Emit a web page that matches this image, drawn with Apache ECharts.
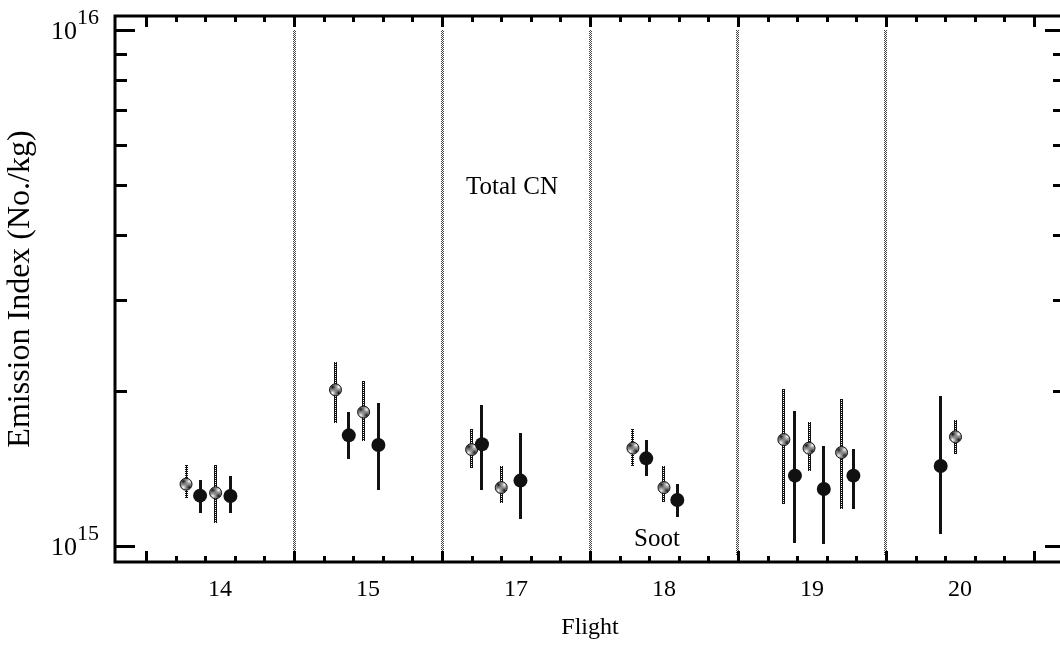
<!DOCTYPE html>
<html>
<head>
<meta charset="utf-8">
<title>Emission Index</title>
<script src="https://cdn.jsdelivr.net/npm/echarts@6/dist/echarts.min.js"></script>
<style>
  html, body { margin: 0; padding: 0; background: #fff; }
  #main { width: 1060px; height: 647px; }
</style>
</head>
<body>
<div id="main"></div>
<script>
// flights on the x axis (index 0..5)
const flights = ['14', '15', '17', '18', '19', '20'];
const flightPos = [0, 1, 2, 3, 4, 5];

// Total CN: x position (flight index + offset), value, low, high  (x 1e15 No./kg)
const cnX    = [-0.23, -0.03, 0.78, 0.97, 1.70, 1.90, 2.79, 3.00, 3.81, 3.98, 4.20, 4.97];
const cnVal  = [1.32, 1.27, 2.01, 1.82, 1.54, 1.30, 1.55, 1.30, 1.61, 1.55, 1.52, 1.63];
const cnLow  = [1.245, 1.11, 1.74, 1.60, 1.42, 1.21, 1.43, 1.22, 1.21, 1.40, 1.18, 1.515];
const cnHigh = [1.44, 1.44, 2.28, 2.09, 1.69, 1.43, 1.69, 1.43, 2.02, 1.74, 1.93, 1.76];

// Soot
const sootX    = [-0.135, 0.07, 0.87, 1.07, 1.77, 2.03, 2.88, 3.09, 3.885, 4.08, 4.28, 4.87];
const sootVal  = [1.254, 1.252, 1.641, 1.572, 1.577, 1.341, 1.481, 1.230, 1.371, 1.292, 1.371, 1.431];
const sootLow  = [1.162, 1.162, 1.476, 1.286, 1.286, 1.130, 1.371, 1.142, 1.014, 1.014, 1.180, 1.057];
const sootHigh = [1.345, 1.369, 1.823, 1.892, 1.878, 1.656, 1.607, 1.321, 1.829, 1.567, 1.544, 1.957];

// flight separators
const sepX = [0.5, 1.5, 2.5, 3.5, 4.5];

// tick positions
const yMajor = [1e15, 1e16];
const yMinor = [2e15, 3e15, 4e15, 5e15, 6e15, 7e15, 8e15, 9e15];
const xMajor = [-0.5, 0.5, 1.5, 2.5, 3.5, 4.5, 5.5];
const xMinor = [];
flightPos.forEach(function (i) {
  xMinor.push(i - 0.3, i - 0.1, i + 0.1, i + 0.3);
});

const E15 = 1e15;
const Y_MIN = 0.933e15, Y_MAX = 1.064e16;
const X_MIN = -0.71, X_MAX = 5.71;
const FONT = '"Liberation Serif", "DejaVu Serif", serif';

// small repeating pixel patterns, like the hatched marks of the original plot
function pattern(rows) {
  const cv = document.createElement('canvas');
  cv.width = rows[0].length; cv.height = rows.length;
  const ctx = cv.getContext('2d');
  rows.forEach(function (row, y) {
    row.forEach(function (c, x) { ctx.fillStyle = c; ctx.fillRect(x, y, 1, 1); });
  });
  return { image: cv, repeat: 'repeat' };
}
const K = '#111', W = '#fff', G = '#444';
const cnFill = pattern([[K, W], [W, K]]);
const cnBarFill = pattern([[K, W], [K, K]]);
const sepFill = pattern([[G, W], [W, G]]);

function barData(xs, lows, highs) {
  return xs.map(function (x, i) { return [x, lows[i] * E15, highs[i] * E15]; });
}
function ptData(xs, vals) {
  return xs.map(function (x, i) { return [x, vals[i] * E15]; });
}

function barRender(fill) {
  return function (params, api) {
    const top = api.coord([api.value(0), api.value(2)]);
    const bot = api.coord([api.value(0), api.value(1)]);
    return {
      type: 'rect',
      shape: { x: Math.round(top[0] - 1.5), y: Math.round(top[1]), width: 3, height: Math.round(bot[1] - top[1]) },
      style: { fill: fill }
    };
  };
}

function tickRender(params, api) {
  const cs = params.coordSys;
  const kind = api.value(2);  // 0 = x tick, 1 = y tick
  const major = api.value(3) === 1;
  const st = { stroke: '#000', lineWidth: 3 };
  if (kind === 0) {
    const px = Math.round(api.coord([api.value(0), Y_MIN])[0]) + 0.5;
    const len = major ? 11 : 6;
    return {
      type: 'group', children: [
        { type: 'line', shape: { x1: px, y1: cs.y + cs.height, x2: px, y2: cs.y + cs.height - len }, style: st },
        { type: 'line', shape: { x1: px, y1: cs.y, x2: px, y2: cs.y + len }, style: st }
      ]
    };
  }
  const py = Math.round(api.coord([X_MIN, api.value(1)])[1]) + 0.5;
  const len = major ? 20 : 12;
  return {
    type: 'group', children: [
      { type: 'line', shape: { x1: cs.x, y1: py, x2: cs.x + len, y2: py }, style: st },
      { type: 'line', shape: { x1: cs.x + cs.width, y1: py, x2: cs.x + cs.width - len, y2: py }, style: st }
    ]
  };
}

const tickData = []
  .concat(xMajor.map(function (v) { return [v, E15, 0, 1]; }))
  .concat(xMinor.map(function (v) { return [v, E15, 0, 0]; }))
  .concat(yMajor.map(function (v) { return [0, v, 1, 1]; }))
  .concat(yMinor.map(function (v) { return [0, v, 1, 0]; }));

const chart = echarts.init(document.getElementById('main'), null, { renderer: 'canvas' });

const option = {
  animation: false,
  backgroundColor: '#fff',
  grid: {
    left: 115, top: 16, width: 950, height: 546,
    outerBoundsMode: 'none', containLabel: false,
    show: true, borderColor: '#000', borderWidth: 3, backgroundColor: 'transparent'
  },
  xAxis: {
    type: 'value', min: X_MIN, max: X_MAX,
    name: 'Flight', nameLocation: 'middle', nameGap: 54,
    nameTextStyle: { fontFamily: FONT, fontSize: 24, color: '#000' },
    axisLine: { show: false }, axisTick: { show: false }, splitLine: { show: false },
    axisLabel: {
      customValues: flightPos,
      margin: 16, fontFamily: FONT, fontSize: 24, color: '#000',
      formatter: function (v) {
        const i = Math.round(v);
        return (Math.abs(v - i) < 1e-6 && flights[i]) ? flights[i] : '';
      }
    }
  },
  yAxis: {
    type: 'log', logBase: 10, min: Y_MIN, max: Y_MAX,
    name: 'Emission Index (No./kg)', nameLocation: 'middle', nameGap: 78, nameRotate: 90,
    nameTextStyle: { fontFamily: FONT, fontSize: 32, color: '#000' },
    axisLine: { show: false }, axisTick: { show: false }, splitLine: { show: false }, minorTick: { show: false },
    axisLabel: {
      customValues: yMajor,
      margin: 16, color: '#000', padding: [0, 0, 8, 0],
      formatter: function (v) {
        const e = Math.log10(v);
        const r = Math.round(e);
        return Math.abs(e - r) < 1e-6 ? '{b|10}{s|' + r + '}' : '';
      },
      rich: {
        b: { fontFamily: FONT, fontSize: 26, lineHeight: 38, verticalAlign: 'bottom', color: '#000' },
        s: { fontFamily: FONT, fontSize: 22, lineHeight: 31, verticalAlign: 'top', color: '#000' }
      }
    }
  },
  graphic: [
    { type: 'text', x: 512, y: 187, z: 10, style: { text: 'Total CN', font: '25px ' + FONT, fill: '#000', align: 'center', verticalAlign: 'middle' } },
    { type: 'text', x: 657, y: 539, z: 10, style: { text: 'Soot', font: '25px ' + FONT, fill: '#000', align: 'center', verticalAlign: 'middle' } }
  ],
  series: [
    {
      name: 'separators', type: 'custom', z: 1, silent: true,
      encode: { x: 0, y: [1, 2] },
      data: sepX.map(function (x) { return [x, 0.965e15, 1e16]; }),
      renderItem: barRender(sepFill)
    },
    {
      name: 'Total CN range', type: 'custom', z: 2, silent: true,
      encode: { x: 0, y: [1, 2] },
      data: barData(cnX, cnLow, cnHigh),
      renderItem: barRender(cnBarFill)
    },
    {
      name: 'Soot range', type: 'custom', z: 2, silent: true,
      encode: { x: 0, y: [1, 2] },
      data: barData(sootX, sootLow, sootHigh),
      renderItem: barRender('#111')
    },
    {
      name: 'Total CN', type: 'scatter', z: 3, symbol: 'circle', symbolSize: 12,
      itemStyle: { color: cnFill, borderColor: '#111', borderWidth: 1, opacity: 1 },
      data: ptData(cnX, cnVal)
    },
    {
      name: 'Soot', type: 'scatter', z: 3, symbol: 'circle', symbolSize: 14,
      itemStyle: { color: '#111', opacity: 1 },
      data: ptData(sootX, sootVal)
    },
    {
      name: 'frame ticks', type: 'custom', z: 4, silent: true,
      encode: { x: 0, y: 1 },
      data: tickData,
      renderItem: tickRender
    }
  ]
};

chart.setOption(option);
</script>
</body>
</html>
